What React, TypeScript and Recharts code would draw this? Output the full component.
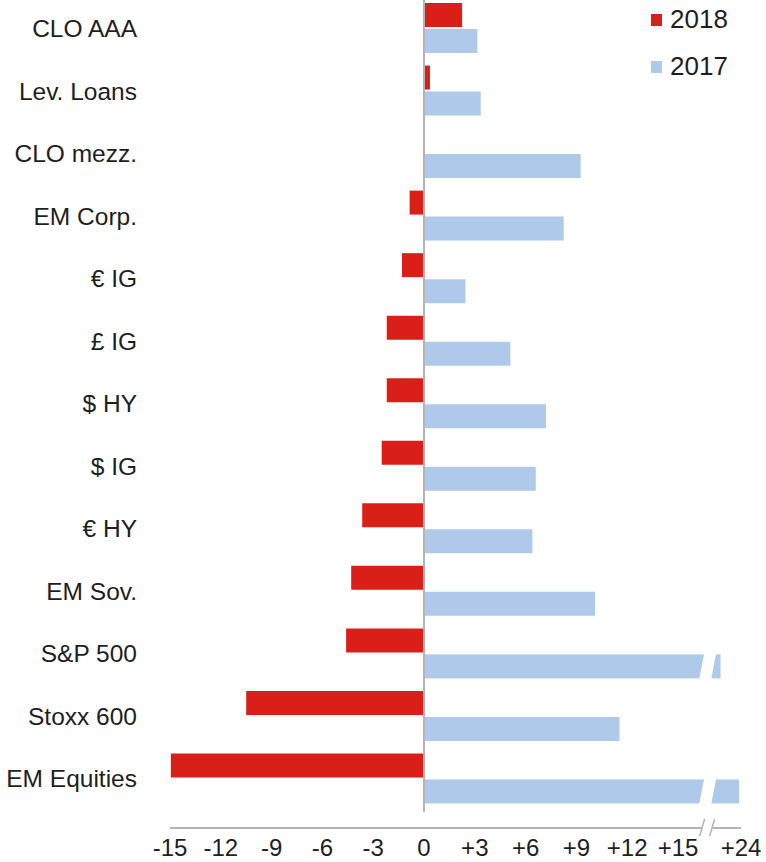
import React from "react";
import { BarChart, Bar, XAxis, YAxis, ReferenceLine, Legend, Rectangle } from "recharts";

// total returns, %
const CATEGORIES = [
  "CLO AAA",
  "Lev. Loans",
  "CLO mezz.",
  "EM Corp.",
  "€ IG",
  "£ IG",
  "$ HY",
  "$ IG",
  "€ HY",
  "EM Sov.",
  "S&P 500",
  "Stoxx 600",
  "EM Equities",
];
const RET_2018 = [2.25, 0.35, 0, -0.85, -1.3, -2.2, -2.2, -2.5, -3.65, -4.3, -4.6, -10.5, -14.95];
const RET_2017 = [3.15, 3.35, 9.25, 8.25, 2.45, 5.1, 7.2, 6.6, 6.4, 10.1, 21.8, 11.55, 23.8];
const SERIES = ["2018", "2017"];
const X_TICKS = [-15, -12, -9, -6, -3, 0, 3, 6, 9, 12, 15, 24];

// broken axis: linear up to +15, then a squeezed stretch that ends at +24
const CUT = 15;
const TOP = 24;
const TOP_POS = 18.72;
const SQUEEZE = 0.55;
const BREAK_POS = 16.75;
const toAxis = (v: number) => (v <= CUT ? v : TOP_POS - (TOP - v) * SQUEEZE);

const RED = "#da1f18";
const BLUE = "#aec9e9";
const GREY = "#b4b4b4";
const TEXT = "#1e1e1e";
const FONT = "'Liberation Sans', Arial, sans-serif";

const W = 766;
const H = 865;
const Y_AXIS_W = 170;
const RIGHT = 25;
const Y_PAD = 18;
const TICK_MARGIN = 11;
const PX = (W - Y_AXIS_W - RIGHT) / (TOP_POS + 15);

const data = CATEGORIES.map((name, i) => ({ name, r2018: RET_2018[i], r2017: RET_2017[i] }));

// bar with a white slanted gap where the axis is broken
function BrokenBar(props: any) {
  const { x, y, width, height, fill, payload } = props;
  if (!(payload && payload.r2017 > CUT)) return <Rectangle {...props} />;
  const bx = x + BREAK_POS * PX;
  const g = 6;
  const s = 2.5;
  return (
    <g>
      <rect x={x} y={y} width={width} height={height} fill={fill} />
      <polygon
        points={`${bx - g + s},${y - 1} ${bx + g + s},${y - 1} ${bx + g - s},${y + height + 1} ${bx - g - s},${y + height + 1}`}
        fill="#fff"
      />
    </g>
  );
}

function ZeroLine(props: any) {
  const { x1, x2, y1, y2 } = props;
  return (
    <line
      x1={x1}
      x2={x2}
      y1={Math.min(y1, y2)}
      y2={Math.max(y1, y2) - Y_PAD + 2}
      stroke={GREY}
      strokeWidth={2}
    />
  );
}

function XTick(props: any) {
  const { x, y, payload } = props;
  const real = X_TICKS.find((t) => toAxis(t) === payload.value) ?? payload.value;
  const label = real > 0 ? `+${real}` : `${real}`;
  const axisY = y - TICK_MARGIN;
  const bx = x - (TOP_POS - BREAK_POS) * PX;
  return (
    <g>
      <text x={x} y={y} dy="0.71em" textAnchor="middle" fill={TEXT} fontSize={24} fontFamily={FONT}>
        {label}
      </text>
      {real === TOP && (
        <g stroke={GREY} strokeWidth={1.5}>
          <rect x={bx - 5} y={axisY - 2} width={10} height={4} fill="#fff" stroke="none" />
          <line x1={bx - 8} y1={axisY + 8} x2={bx - 3} y2={axisY - 9} />
          <line x1={bx + 2} y1={axisY + 8} x2={bx + 7} y2={axisY - 9} />
        </g>
      )}
    </g>
  );
}

function LegendBox({ payload }: any) {
  return (
    <div style={{ fontFamily: FONT, fontSize: 26, color: TEXT }}>
      {(payload || []).map((p: any) => (
        <div key={p.value} style={{ display: "flex", alignItems: "center", height: 47 }}>
          <span style={{ width: 11, height: 12, background: p.color, marginRight: 8 }} />
          <span>{p.value}</span>
        </div>
      ))}
    </div>
  );
}

export default function App() {
  return (
    <div style={{ position: "absolute", left: 0, top: -3, width: W, height: H, background: "#fff" }}>
      <BarChart
        width={W}
        height={H}
        data={data}
        layout="vertical"
        margin={{ top: 0, right: RIGHT, bottom: 0, left: 0 }}
        barSize={24}
        barGap={2}
      >
        <XAxis
          type="number"
          domain={[-15, TOP_POS]}
          ticks={X_TICKS.map(toAxis)}
          interval={0}
          tickLine={false}
          tickSize={0}
          tickMargin={TICK_MARGIN}
          height={34}
          axisLine={{ stroke: GREY, strokeWidth: 2 }}
          tick={<XTick />}
          allowDataOverflow
        />
        <YAxis
          type="category"
          dataKey="name"
          width={Y_AXIS_W}
          interval={0}
          tickLine={false}
          axisLine={false}
          tickSize={0}
          tickMargin={33}
          padding={{ top: 0, bottom: Y_PAD }}
          tick={{ fill: TEXT, fontSize: 24.5, fontFamily: FONT }}
        />
        <Legend
          layout="vertical"
          align="center"
          verticalAlign="middle"
          content={<LegendBox />}
          itemSorter={(p: any) => SERIES.indexOf(p.value)}
          wrapperStyle={{ top: -1, left: 651, width: 110 }}
        />
        <Bar dataKey={(d: any) => toAxis(d.r2018)} name="2018" fill={RED} isAnimationActive={false} />
        <Bar
          dataKey={(d: any) => toAxis(d.r2017)}
          name="2017"
          fill={BLUE}
          shape={<BrokenBar />}
          isAnimationActive={false}
        />
        <ReferenceLine x={0} shape={<ZeroLine />} />
      </BarChart>
    </div>
  );
}
